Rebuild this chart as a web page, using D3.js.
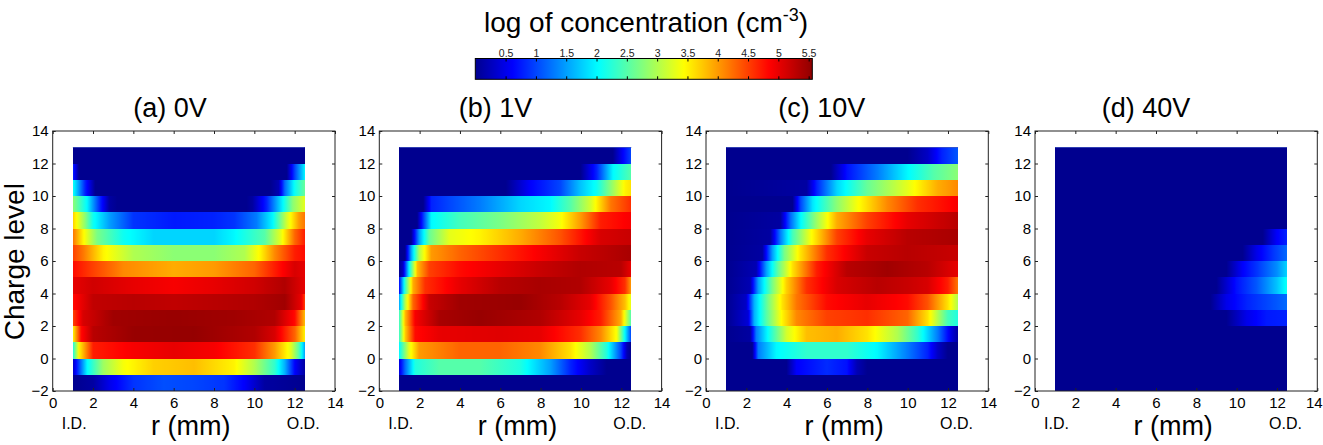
<!DOCTYPE html>
<html>
<head>
<meta charset="utf-8">
<script src="https://cdn.jsdelivr.net/npm/d3@7"></script>
<style>
  body { margin: 0; background: #fff; }
  svg { font-family: "Liberation Sans", Arial, sans-serif; }
</style>
</head>
<body>
<div id="chart"></div>
<script>
// ---- data ----
const panelTitles = ["(a) 0V", "(b) 1V", "(c) 10V", "(d) 40V"];
const rowLevels = d3.range(-2, 13);          // lower edge of each charge-level band
const xTicks = d3.range(0, 15, 2);
const yTicks = d3.range(-2, 15, 2);
const colorTicks = [0.5, 1, 1.5, 2, 2.5, 3, 3.5, 4, 4.5, 5, 5.5];
const colorRange = [0, 5.56];

// one list per band (bottom to top), points are [r (mm), log concentration]
const conc0V = [
  [[1,0],[2,0.1],[2.8,0.5],[4,0.9],[5.5,1.05],[7,1.0],[8.5,0.9],[9.5,0.6],[10.5,0.1],[12.5,0]],
  [[1,0.3],[1.3,1.0],[1.7,2.0],[2.5,2.9],[3.5,3.4],[5,3.7],[7,3.8],[9,3.5],[10,3.0],[11,2.3],[11.5,1.6],[12,0.6],[12.5,0.1]],
  [[1,2.2],[1.3,3.5],[2,4.7],[4,4.9],[6,5.0],[8,4.9],[10,4.6],[11,4.0],[11.8,3.3],[12.2,2.5],[12.5,1.5]],
  [[1,3.5],[1.4,4.8],[2,5.3],[4,5.5],[7,5.52],[10,5.35],[11,5.1],[12,4.3],[12.5,3.5]],
  [[1,4.5],[1.5,5.1],[3,5.45],[6,5.5],[9,5.45],[11,5.35],[12,4.8],[12.5,3.8]],
  [[1,4.8],[2,5.25],[4,5.3],[6,5.25],[8,5.3],[10,5.35],[11.5,5.45],[12.3,5.0],[12.5,4.5]],
  [[1,5.0],[2,5.15],[4,5.0],[6,4.9],[8,5.0],[10,5.15],[11.5,5.35],[12.5,5.0]],
  [[1,4.8],[2,4.5],[3.5,4.1],[6,3.9],[8,4.0],[10,4.3],[11,4.7],[12,5.1],[12.5,5.0]],
  [[1,4.5],[1.5,4.2],[2.5,3.5],[4,3.0],[6,2.8],[8,2.8],[9.5,3.0],[10.3,3.5],[11,4.1],[12,4.7],[12.5,4.8]],
  [[1,4.2],[1.5,3.5],[2.2,2.7],[3.5,2.1],[5,1.8],[8,1.8],[9,2.0],[10.5,2.5],[11.3,3.3],[12,4.3],[12.5,4.7]],
  [[1,3.7],[1.6,2.8],[2,2.1],[2.8,1.5],[4,0.9],[6,0.75],[8,0.8],[9,0.9],[10.1,1.3],[10.9,2.0],[11.6,3.2],[12.2,4.0],[12.5,4.2]],
  [[1,2.8],[1.7,2.0],[2.35,0.8],[2.8,0.1],[3.2,0],[9.6,0],[9.9,0.1],[10.6,0.8],[11.4,2.0],[11.9,2.8],[12.5,3.3]],
  [[1,2.1],[1.6,0.8],[2.1,0],[10.8,0],[11.2,0.2],[11.5,1.2],[12,2.1],[12.5,2.6]],
  [[1,0.8],[1.3,0],[11.6,0],[12,1.0],[12.5,2.0]],
  [[1,0],[12.5,0]]
];

const conc1V = [
  [[1,0],[12.5,0]],
  [[1,0.4],[1.3,1.2],[1.8,2.2],[3,2.5],[5,2.5],[7,2.2],[8.5,1.5],[9.5,0.8],[10.5,0.3],[11.3,0],[12.5,0]],
  [[1,2.0],[1.5,3.3],[2,4.0],[4,4.3],[6,4.3],[8,4.1],[9.5,3.6],[10.5,3.0],[11.3,2.2],[12,1.0],[12.3,0.2],[12.5,0]],
  [[1,2.3],[1.3,3.7],[1.8,4.8],[3,5.0],[6,5.05],[8,5.0],[10,4.6],[11,4.1],[11.8,3.4],[12.2,2.0],[12.5,1.0]],
  [[1,2.3],[1.3,3.8],[1.8,4.9],[3,5.4],[5,5.5],[8,5.35],[10,5.0],[11,4.7],[12,3.9],[12.5,2.5]],
  [[1,1.5],[1.3,3.0],[1.7,4.3],[2.5,5.2],[4,5.45],[7,5.5],[9,5.3],[10.5,5.0],[11.5,4.4],[12.2,3.8],[12.5,3.3]],
  [[1,0.6],[1.3,2.3],[1.7,3.9],[2.3,4.6],[4,5.0],[6,5.3],[8,5.4],[10,5.35],[11.5,5.0],[12.2,4.6],[12.5,4.0]],
  [[1,0],[1.2,0.3],[1.5,2.0],[1.9,3.8],[2.5,4.5],[4,4.8],[6,5.0],[8,5.2],[10,5.35],[12,5.3],[12.5,5.0]],
  [[1,0],[1.3,0],[1.6,1.5],[2,3.0],[2.6,4.0],[4,4.3],[6,4.6],[8,4.9],[10,5.2],[12.5,5.4]],
  [[1,0],[1.6,0],[2,1.5],[2.5,2.6],[3.5,3.3],[5,3.5],[7,3.9],[9,4.4],[11,5.1],[12.5,5.2]],
  [[1,0],[1.9,0],[2.2,0.9],[2.6,2.0],[4,2.4],[6,2.7],[8,3.1],[9,3.4],[10,4.0],[11,4.7],[12.5,4.9]],
  [[1,0],[2.2,0],[2.6,0.8],[3.5,1.0],[5,1.3],[7,1.8],[8.5,2.0],[9.5,2.5],[10.5,3.2],[11.5,4.2],[12.5,4.6]],
  [[1,0],[6.3,0],[7.5,0.6],[9,1.0],[10,1.7],[10.8,2.1],[11.6,2.9],[12.2,3.5],[12.5,3.6]],
  [[1,0],[10,0],[10.8,0.8],[11.6,2.0],[12.5,2.5]],
  [[1,0],[11.6,0],[12.1,0.6],[12.5,1.0]]
];

const conc10V = [
  [[1,0],[12.5,0]],
  [[1,0],[4,0],[4.5,0.6],[6,0.85],[7,0.7],[7.5,0.2],[8,0],[12.5,0]],
  [[1,0],[2.3,0],[2.6,1.3],[3.5,2.0],[5,2.3],[7,2.3],[8.5,2.0],[10,1.3],[11,0.8],[11.5,0.3],[12,0],[12.5,0]],
  [[1,0],[2.2,0.1],[2.5,1.3],[3.2,2.2],[4,3.2],[5,3.8],[6.5,3.9],[8,3.6],[9.5,3.0],[10.5,2.3],[11.5,1.3],[12.2,0.4],[12.5,0.1]],
  [[1,0],[2.1,0.4],[2.4,1.6],[3,2.5],[3.8,3.5],[4.5,4.1],[6,4.5],[8,4.6],[10,4.3],[11,3.6],[12,2.4],[12.5,2.2]],
  [[1,0],[2,0.3],[2.4,1.6],[3.1,2.7],[3.8,3.6],[4.5,4.2],[6,4.8],[8,5.0],[10,4.8],[11,4.4],[12,3.6],[12.5,3.0]],
  [[1,0],[2.2,0.2],[2.6,1.5],[3.3,2.7],[4,3.7],[5,4.6],[6.5,5.1],[8.5,5.3],[10,5.2],[11,5.1],[12,4.7],[12.5,4.2]],
  [[1,0],[2.5,0.2],[3,1.5],[3.6,2.6],[4.3,3.6],[5.5,4.7],[7,5.3],[9,5.45],[11,5.3],[12.5,5.0]],
  [[1,0],[2.8,0.1],[3.3,1.5],[3.9,2.7],[4.7,3.6],[6,4.6],[8,5.2],[10,5.3],[12.5,5.2]],
  [[1,0],[3.2,0.1],[3.7,1.3],[4.3,2.4],[5.2,3.4],[6.5,4.5],[8,5.0],[10,5.3],[12.5,5.4]],
  [[1,0],[3.7,0.1],[4.2,1.2],[4.7,2.0],[5.5,2.9],[6.5,3.9],[8,4.5],[10,5.0],[12.5,5.3]],
  [[1,0],[4.3,0],[4.7,1.0],[5.3,1.9],[6.5,2.8],[7.5,3.4],[9,4.1],[10.5,4.6],[12.5,4.9]],
  [[1,0],[5,0.1],[5.5,0.8],[6.5,1.8],[8,2.6],[10,3.3],[11.5,3.9],[12.5,4.1]],
  [[1,0],[6.2,0],[7,0.7],[8.5,1.3],[10,2.0],[11.3,2.5],[12.5,2.8]],
  [[1,0],[10,0],[11,0.3],[11.7,0.8],[12.5,1.1]]
];

const conc40V = [
  [[1,0],[12.5,0]],
  [[1,0],[12.5,0]],
  [[1,0],[12.5,0]],
  [[1,0],[12.5,0]],
  [[1,0],[9.5,0],[10.5,0.5],[11.5,0.75],[12.5,0.8]],
  [[1,0],[8.7,0],[9.5,0.5],[10.5,0.8],[12,1.1],[12.5,1.2]],
  [[1,0],[9,0],[10,0.7],[11,1.1],[12,1.7],[12.5,2.1]],
  [[1,0],[9.5,0],[10.3,0.6],[11,0.9],[12,1.4],[12.5,1.8]],
  [[1,0],[10.3,0],[11,0.5],[11.8,0.9],[12.5,1.2]],
  [[1,0],[11.3,0],[12,0.6],[12.5,0.8]],
  [[1,0],[12.5,0]],
  [[1,0],[12.5,0]],
  [[1,0],[12.5,0]],
  [[1,0],[12.5,0]],
  [[1,0],[12.5,0]]
];

const panels = [conc0V, conc1V, conc10V, conc40V];

// ---- layout ----
const width = 1323, height = 445;
const panelLeft = [52.7, 379.3, 706, 1035];
const titleX = [170, 495.5, 821.7, 1146];
const panelW = 282.3, panelTop = 131, panelBottom = 391;
const rMin = 1, rMax = 12.5;

// MATLAB jet
const jet = d3.scaleLinear()
  .domain([0, 7/63, 23/63, 39/63, 55/63, 1].map(t => colorRange[0] + t * (colorRange[1] - colorRange[0])))
  .range(["#00008f", "#0000ff", "#00ffff", "#ffff00", "#ff0000", "#8f0000"])
  .clamp(true);

const svg = d3.select("#chart").append("svg")
  .attr("width", width)
  .attr("height", height)
  .attr("viewBox", [0, 0, width, height]);

const defs = svg.append("defs");

// ---- colorbar ----
const cbX = d3.scaleLinear().domain(colorRange).range([475.3, 812.3]);
const cbTop = 58.5, cbBottom = 79.3;

const cbGrad = defs.append("linearGradient").attr("id", "cbgrad");
cbGrad.selectAll("stop")
  .data(d3.range(0, 101).map(k => k / 100))
  .join("stop")
  .attr("offset", d => d)
  .attr("stop-color", d => jet(colorRange[0] + d * (colorRange[1] - colorRange[0])));

svg.append("rect")
  .attr("x", cbX(colorRange[0]))
  .attr("y", cbTop)
  .attr("width", cbX(colorRange[1]) - cbX(colorRange[0]))
  .attr("height", cbBottom - cbTop)
  .attr("fill", "url(#cbgrad)")
  .attr("stroke", "#000")
  .attr("stroke-width", 1);

const cbTopAxis = svg.append("g")
  .attr("transform", `translate(0,${cbTop})`)
  .call(d3.axisTop(cbX).tickValues(colorTicks).tickSize(-3).tickPadding(1.5).tickFormat(d3.format("~g")));
cbTopAxis.select(".domain").remove();
cbTopAxis.selectAll("text").attr("font-size", 10.5).attr("fill", "#222").attr("font-family", null);

const cbBotAxis = svg.append("g")
  .attr("transform", `translate(0,${cbBottom})`)
  .call(d3.axisBottom(cbX).tickValues(colorTicks).tickSize(-3).tickFormat(""));
cbBotAxis.select(".domain").remove();

const cbTitle = svg.append("text")
  .attr("x", 646)
  .attr("y", 31.7)
  .attr("text-anchor", "middle")
  .attr("font-size", 28);
cbTitle.append("tspan").text("log of concentration (cm");
cbTitle.append("tspan").attr("dy", -11).attr("font-size", 18).text("-3");
cbTitle.append("tspan").attr("dy", 11).text(")");

// ---- panels ----
panels.forEach((rows, p) => {
  const x = d3.scaleLinear().domain([0, 14]).range([panelLeft[p], panelLeft[p] + panelW]);
  const y = d3.scaleLinear().domain([-2, 14]).range([panelBottom, panelTop]);
  const g = svg.append("g");

  // one gradient per charge-level band, value interpolated along r then mapped
  rows.forEach((pts, i) => {
    const interp = d3.scaleLinear()
      .domain(pts.map(d => d[0]))
      .range(pts.map(d => d[1]))
      .clamp(true);
    defs.append("linearGradient")
      .attr("id", `g${p}_${i}`)
      .selectAll("stop")
      .data(d3.range(0, 231).map(k => rMin + k * 0.05))
      .join("stop")
      .attr("offset", r => (r - rMin) / (rMax - rMin))
      .attr("stop-color", r => jet(interp(r)));
  });

  g.selectAll("rect.band")
    .data(rowLevels)
    .join("rect")
    .attr("class", "band")
    .attr("shape-rendering", "crispEdges")
    .attr("x", Math.round(x(rMin)))
    .attr("y", d => Math.round(y(d + 1)))
    .attr("width", Math.round(x(rMax)) - Math.round(x(rMin)))
    .attr("height", d => Math.round(y(d)) - Math.round(y(d + 1)))
    .attr("fill", (d, i) => `url(#g${p}_${i})`);

  g.append("line")
    .attr("x1", x(rMin)).attr("x2", x(rMax))
    .attr("y1", Math.round(y(13)) + 0.5).attr("y2", Math.round(y(13)) + 0.5)
    .attr("stroke", "#4458c0")
    .attr("stroke-opacity", 0.7);

  // axes with inward ticks on all sides
  const xb = g.append("g").attr("transform", `translate(0,${panelBottom})`)
    .call(d3.axisBottom(x).tickValues(xTicks).tickSize(-3).tickPadding(6));
  const xt = g.append("g").attr("transform", `translate(0,${panelTop})`)
    .call(d3.axisTop(x).tickValues(xTicks).tickSize(-3).tickFormat(""));
  const yl = g.append("g").attr("transform", `translate(${panelLeft[p]},0)`)
    .call(d3.axisLeft(y).tickValues(yTicks).tickSize(-3).tickPadding(4));
  const yr = g.append("g").attr("transform", `translate(${panelLeft[p] + panelW},0)`)
    .call(d3.axisRight(y).tickValues(yTicks).tickSize(-3).tickFormat(""));
  [xb, xt, yl, yr].forEach(a => {
    a.select(".domain").remove();
    a.selectAll("text").attr("font-size", 15).attr("fill", "#000").attr("font-family", null);
    a.selectAll("line").attr("stroke", "#222");
  });
  // last panel: keep the "14" inside the page like the original
  if (p === 3) xb.selectAll("text").filter(d => d === 14).attr("dx", -3.5);

  g.append("rect")
    .attr("x", panelLeft[p])
    .attr("y", panelTop)
    .attr("width", panelW)
    .attr("height", panelBottom - panelTop)
    .attr("fill", "none")
    .attr("stroke", "#222")
    .attr("stroke-width", 1);

  g.append("text")
    .attr("x", titleX[p])
    .attr("y", 117)
    .attr("text-anchor", "middle")
    .attr("font-size", 27)
    .text(panelTitles[p]);

  g.append("text")
    .attr("x", panelLeft[p] + panelW / 2 - 3)
    .attr("y", 435)
    .attr("text-anchor", "middle")
    .attr("font-size", 27)
    .text("r (mm)");

  g.append("text")
    .attr("x", panelLeft[p] + 9)
    .attr("y", 429)
    .attr("font-size", 16)
    .text("I.D.");

  g.append("text")
    .attr("x", panelLeft[p] + 234)
    .attr("y", 429)
    .attr("font-size", 16)
    .text("O.D.");
});

svg.append("text")
  .attr("transform", "translate(24,261.7) rotate(-90)")
  .attr("text-anchor", "middle")
  .attr("font-size", 28)
  .text("Charge level");
</script>
</body>
</html>
